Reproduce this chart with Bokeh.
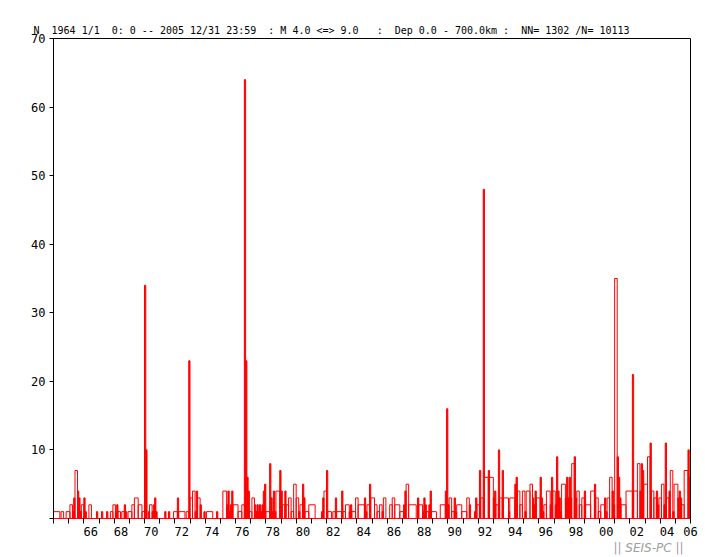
from bokeh.plotting import figure
from bokeh.models import Range1d, FixedTicker, LinearAxis, Title, ColumnDataSource, CustomJSTickFormatter
from bokeh.embed import file_html
from bokeh.resources import INLINE

# monthly event counts (Jan..Dec)
m1964 = [1, 1, 1, 1, 1, 0, 1, 1, 0, 0, 1, 1]
m1965 = [1, 2, 2, 1, 3, 7, 7, 4, 3, 1, 2, 2]
m1966 = [3, 1, 0, 0, 2, 2, 0, 0, 0, 0, 1, 0]
m1967 = [0, 0, 1, 0, 0, 0, 1, 0, 0, 1, 1, 2]
m1968 = [2, 1, 2, 1, 1, 0, 1, 1, 2, 1, 0, 1]
m1969 = [1, 1, 2, 2, 3, 3, 3, 2, 2, 2, 1, 1]
m1970 = [34, 10, 0, 1, 2, 2, 1, 2, 3, 1, 0, 0]
m1971 = [0, 0, 0, 0, 1, 0, 0, 1, 0, 0, 0, 1]
m1972 = [1, 1, 3, 1, 1, 1, 1, 1, 0, 1, 1, 23]
m1973 = [3, 3, 4, 4, 1, 4, 3, 3, 2, 0, 0, 1]
m1974 = [0, 1, 1, 1, 1, 1, 0, 0, 0, 1, 0, 0]
m1975 = [0, 0, 4, 4, 4, 2, 4, 1, 2, 4, 2, 2]
m1976 = [2, 2, 1, 1, 1, 2, 2, 64, 23, 6, 4, 1]
m1977 = [1, 3, 3, 2, 1, 2, 1, 2, 1, 2, 4, 5]
m1978 = [1, 1, 1, 8, 3, 1, 4, 1, 4, 4, 4, 7]
m1979 = [4, 2, 2, 4, 2, 2, 3, 3, 1, 1, 5, 5]
m1980 = [3, 3, 1, 2, 2, 5, 3, 1, 1, 1, 2, 2]
m1981 = [2, 2, 2, 0, 0, 0, 0, 0, 1, 3, 4, 4]
m1982 = [7, 1, 1, 1, 0, 1, 1, 3, 1, 1, 1, 1]
m1983 = [4, 1, 1, 2, 2, 2, 1, 2, 1, 1, 1, 3]
m1984 = [3, 2, 2, 2, 2, 2, 3, 1, 2, 2, 5, 3]
m1985 = [3, 3, 2, 2, 1, 1, 2, 2, 1, 3, 3, 0]
m1986 = [0, 0, 2, 2, 3, 3, 2, 2, 2, 2, 1, 1]
m1987 = [1, 2, 4, 5, 5, 2, 2, 2, 2, 2, 2, 0]
m1988 = [3, 2, 2, 2, 1, 3, 2, 1, 1, 2, 4, 1]
m1989 = [1, 1, 1, 0, 0, 0, 2, 2, 2, 2, 4, 16]
m1990 = [2, 3, 3, 1, 1, 3, 1, 2, 2, 2, 2, 1]
m1991 = [1, 1, 1, 3, 3, 2, 0, 0, 0, 1, 3, 2]
m1992 = [2, 7, 3, 3, 48, 6, 6, 6, 7, 6, 6, 6]
m1993 = [3, 4, 2, 2, 10, 3, 3, 7, 3, 3, 3, 3]
m1994 = [1, 3, 3, 3, 3, 5, 6, 4, 4, 2, 2, 4]
m1995 = [4, 1, 4, 4, 4, 5, 5, 3, 2, 4, 3, 3]
m1996 = [3, 6, 3, 1, 2, 2, 4, 4, 4, 2, 6, 4]
m1997 = [4, 2, 9, 4, 3, 1, 5, 5, 5, 3, 6, 3]
m1998 = [6, 3, 8, 8, 9, 3, 4, 4, 2, 2, 3, 3]
m1999 = [4, 2, 2, 2, 2, 4, 4, 4, 5, 3, 3, 1]
m2000 = [1, 2, 2, 2, 3, 1, 3, 3, 6, 6, 4, 2]
m2001 = [35, 35, 9, 6, 3, 2, 2, 2, 2, 4, 4, 4]
m2002 = [4, 4, 21, 4, 4, 4, 8, 8, 4, 8, 7, 5]
m2003 = [5, 5, 9, 9, 11, 4, 4, 3, 3, 4, 2, 3]
m2004 = [3, 5, 5, 2, 11, 3, 3, 4, 7, 7, 1, 5]
m2005 = [5, 5, 3, 4, 3, 2, 2, 7, 7, 7, 10, 6]

start_year = 1964
end_year = 2006
y_ticks = [0, 10, 20, 30, 40, 50, 60, 70]
x_label_years = list(range(1966, 2005, 2))
title_text = "N  1964 1/1  0: 0 -- 2005 12/31 23:59  : M 4.0 <=> 9.0   :  Dep 0.0 - 700.0km :  NN= 1302 /N= 10113"
credit_text = "|| SEIS-PC ||"

monthly = (m1964 + m1965 + m1966 + m1967 + m1968 + m1969 + m1970 + m1971 + m1972 + m1973 +
           m1974 + m1975 + m1976 + m1977 + m1978 + m1979 + m1980 + m1981 + m1982 + m1983 +
           m1984 + m1985 + m1986 + m1987 + m1988 + m1989 + m1990 + m1991 + m1992 + m1993 +
           m1994 + m1995 + m1996 + m1997 + m1998 + m1999 + m2000 + m2001 + m2002 + m2003 +
           m2004 + m2005)

# merge runs of equal values into single boxes (as the original step outline does)
single = dict(left=[], right=[], top=[])
multi = dict(left=[], right=[], top=[])
i = 0
n = len(monthly)
while i < n:
    v = monthly[i]
    j = i
    while j + 1 < n and monthly[j + 1] == v:
        j += 1
    if v > 0:
        d = single if j == i else multi
        d["left"].append(start_year + i / 12.0)
        d["right"].append(start_year + (j + 1) / 12.0)
        d["top"].append(v)
    i = j + 1

RED = "#ff0000"
TICK_FONT = "DejaVu Sans Mono"

p = figure(width=705, height=557, x_range=Range1d(start_year, end_year), y_range=Range1d(0, 70),
           output_backend="svg", toolbar_location=None,
           min_border_left=53, min_border_right=15, min_border_top=38, min_border_bottom=39)
p.xgrid.visible = False
p.ygrid.visible = False
p.outline_line_color = None
p.background_fill_color = "white"
p.border_fill_color = "white"

# keep the fixed-width spacing of the original header (non-breaking spaces survive in SVG)
p.title.text = title_text.replace(" ", "\u00a0")
p.title.align = "left"
p.title.offset = -20
p.title.standoff = 6
p.title.text_font = "DejaVu Sans Mono"
p.title.text_font_size = "10px"
p.title.text_font_style = "normal"
p.title.text_color = "black"

p.quad(left="left", right="right", top="top", bottom=0, source=ColumnDataSource(single),
       fill_color=RED, line_color=RED, line_width=1)
p.quad(left="left", right="right", top="top", bottom=0, source=ColumnDataSource(multi),
       fill_color=None, line_color=RED, line_width=1)

xa = p.xaxis[0]
xa.ticker = FixedTicker(ticks=[yr + 0.45 for yr in x_label_years] + [end_year],
                        minor_ticks=list(range(start_year, end_year + 1)))
xa.formatter = CustomJSTickFormatter(code="return String(Math.floor(tick + 0.01) % 100).padStart(2, '0');")
xa.axis_line_color = RED
xa.major_tick_line_color = None
xa.major_tick_out = 5
xa.major_tick_in = 0
xa.minor_tick_line_color = "black"
xa.minor_tick_out = 5
xa.minor_tick_in = 0
xa.major_label_standoff = 3
xa.major_label_text_font = TICK_FONT
xa.major_label_text_font_size = "12px"
xa.major_label_text_color = "black"

ya = p.yaxis[0]
ya.ticker = FixedTicker(ticks=y_ticks)
ya.major_label_overrides = {0: ""}
ya.axis_line_color = "black"
ya.major_tick_line_color = "black"
ya.major_tick_out = 4
ya.major_tick_in = 0
ya.minor_tick_line_color = None
ya.major_label_standoff = 4
ya.major_label_text_font = TICK_FONT
ya.major_label_text_font_size = "12px"
ya.major_label_text_color = "black"

for loc in ("above", "right"):
    ax = LinearAxis(ticker=FixedTicker(ticks=[]), axis_line_color="black",
                    major_tick_line_color=None, minor_tick_line_color=None,
                    major_label_text_font_size="0px")
    p.add_layout(ax, loc)

credit = Title(text=credit_text.replace(" ", "\u00a0"), align="right", offset=7, standoff=0,
               text_font="DejaVu Sans", text_font_size="12px", text_font_style="italic",
               text_color="#a0a0a0")
p.add_layout(credit, "below")

open("out.html", "w").write(file_html(p, INLINE))
